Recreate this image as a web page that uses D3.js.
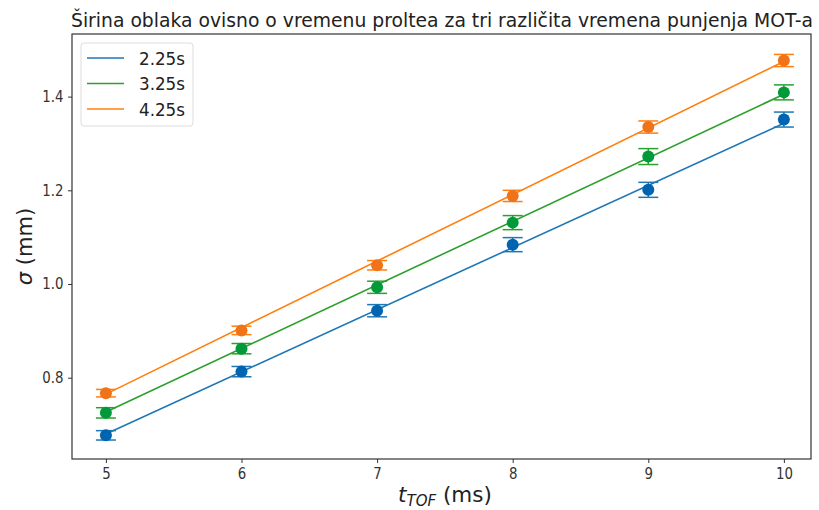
<!DOCTYPE html>
<html>
<head>
<meta charset="utf-8">
<script src="https://cdn.jsdelivr.net/npm/d3@7"></script>
<style>
  body { margin: 0; background: #fff; }
  text { font-family: "DejaVu Sans", sans-serif; }
</style>
</head>
<body>
<svg id="chart" width="819" height="510"></svg>
<script>
(function(){
const width = 819;
const height = 510;

// --- Data ---
const tof = [5, 6, 7, 8, 9, 10];
const loadTimes = ["2.25s", "3.25s", "4.25s"];

const sigma225 = [0.677, 0.813, 0.943, 1.084, 1.201, 1.351];
const sigma325 = [0.725, 0.862, 0.993, 1.131, 1.272, 1.409];
const sigma425 = [0.767, 0.901, 1.040, 1.188, 1.335, 1.477];

const err225 = [0.010, 0.011, 0.013, 0.015, 0.016, 0.016];
const err325 = [0.011, 0.011, 0.013, 0.015, 0.017, 0.016];
const err425 = [0.008, 0.009, 0.010, 0.012, 0.013, 0.013];

// fitted lines, read at both ends (t = 5 ms and t = 10 ms)
const fitEnds = [5, 10];
const fit225 = [0.680, 1.343];
const fit325 = [0.727, 1.405];
const fit425 = [0.765, 1.475];

const xTicks = [5, 6, 7, 8, 9, 10];
const yTicks = [0.8, 1.0, 1.2, 1.4];

const series = [
  { name: loadTimes[0], y: sigma225, err: err225, fit: fit225, line: "#1f77b4", dot: "#0064b0" },
  { name: loadTimes[1], y: sigma325, err: err325, fit: fit325, line: "#2ca02c", dot: "#009a3a" },
  { name: loadTimes[2], y: sigma425, err: err425, fit: fit425, line: "#ff7f0e", dot: "#f0731a" }
];

const svg = d3.select("#chart");

const plot = { left: 72, right: 811, top: 34, bottom: 459 };

const x = d3.scaleLinear().domain([4.75, 10.2]).range([plot.left, plot.right]);
const y = d3.scaleLinear().domain([0.6265, 1.5336]).range([plot.bottom, plot.top]);

// --- Axes ---
const xAxis = svg.append("g")
  .attr("transform", `translate(0,${plot.bottom})`)
  .call(d3.axisBottom(x).tickValues(xTicks).tickFormat(d3.format("d")).tickSize(4).tickPadding(5));

const yAxis = svg.append("g")
  .attr("transform", `translate(${plot.left},0)`)
  .call(d3.axisLeft(y).tickValues(yTicks).tickFormat(d3.format(".1f")).tickSize(4).tickPadding(6));

[xAxis, yAxis].forEach(g => {
  g.select(".domain").remove();
  g.selectAll(".tick line").attr("stroke", "#333").attr("stroke-width", 1);
  g.selectAll(".tick text").attr("font-size", 15.5).attr("fill", "#333")
    .attr("transform", "scale(0.86,1)")
    .style("font-family", "DejaVu Sans, sans-serif");
});

// frame
svg.append("rect")
  .attr("x", plot.left).attr("y", plot.top)
  .attr("width", plot.right - plot.left).attr("height", plot.bottom - plot.top)
  .attr("fill", "none").attr("stroke", "#333").attr("stroke-width", 1.2);

// --- Fit lines ---
const line = d3.line().x((d, i) => x(fitEnds[i])).y(d => y(d));
svg.append("g").selectAll("path")
  .data(series)
  .enter()
  .append("path")
  .attr("d", s => line(s.fit))
  .attr("fill", "none")
  .attr("stroke", s => s.line)
  .attr("stroke-width", 1.6);

// --- Error bars and points ---
const groups = svg.append("g").selectAll("g")
  .data(series)
  .enter()
  .append("g");

groups.each(function(s) {
  const g = d3.select(this);
  const pts = tof.map((t, i) => ({ t, v: s.y[i], e: s.err[i] }));
  const eb = g.selectAll("g.eb").data(pts).enter().append("g")
    .attr("stroke", s.line).attr("stroke-width", 1.5);
  eb.append("line")
    .attr("x1", d => x(d.t)).attr("x2", d => x(d.t))
    .attr("y1", d => y(d.v - d.e)).attr("y2", d => y(d.v + d.e));
  eb.append("line")
    .attr("x1", d => x(d.t) - 10).attr("x2", d => x(d.t) + 10)
    .attr("y1", d => y(d.v - d.e)).attr("y2", d => y(d.v - d.e));
  eb.append("line")
    .attr("x1", d => x(d.t) - 10).attr("x2", d => x(d.t) + 10)
    .attr("y1", d => y(d.v + d.e)).attr("y2", d => y(d.v + d.e));
  g.selectAll("circle").data(pts).enter().append("circle")
    .attr("cx", d => x(d.t)).attr("cy", d => y(d.v))
    .attr("r", 6).attr("fill", s.dot);
});

// --- Title ---
svg.append("text")
  .attr("x", 71)
  .attr("y", 27)
  .attr("font-size", 18.6)
  .attr("textLength", 742)
  .attr("lengthAdjust", "spacingAndGlyphs")
  .attr("fill", "#222")
  .text("Širina oblaka ovisno o vremenu proltea za tri različita vremena punjenja MOT-a");

// --- Axis labels ---
const xl = svg.append("text")
  .attr("x", 445)
  .attr("y", 502)
  .attr("text-anchor", "middle")
  .attr("font-size", 21.5)
  .attr("fill", "#222");
xl.append("tspan").attr("font-style", "italic").text("t");
xl.append("tspan").attr("font-style", "italic").attr("font-size", 15).attr("dy", 4).text("TOF");
xl.append("tspan").attr("dy", -4).text(" (ms)");

const yl = svg.append("text")
  .attr("transform", `translate(32,${(plot.top + plot.bottom) / 2}) rotate(-90)`)
  .attr("text-anchor", "middle")
  .attr("font-size", 21)
  .attr("fill", "#222");
yl.append("tspan").attr("font-style", "italic").text("σ");
yl.append("tspan").text(" (mm)");

// --- Legend ---
const legend = svg.append("g");
legend.append("rect")
  .attr("x", 81).attr("y", 43).attr("width", 112).attr("height", 83)
  .attr("rx", 3)
  .attr("fill", "#fff").attr("fill-opacity", 0.8)
  .attr("stroke", "#ddd").attr("stroke-width", 1);

const item = legend.selectAll("g.item")
  .data(series)
  .enter()
  .append("g")
  .attr("transform", (d, i) => `translate(0,${58 + i * 25.5})`);
item.append("line")
  .attr("x1", 87).attr("x2", 124).attr("y1", 0).attr("y2", 0)
  .attr("stroke", d => d.line).attr("stroke-width", 1.6);
item.append("text")
  .attr("x", 139).attr("y", 6.5)
  .attr("font-size", 18)
  .attr("textLength", 46)
  .attr("lengthAdjust", "spacingAndGlyphs")
  .attr("fill", "#222")
  .text(d => d.name);
})();
</script>
</body>
</html>
